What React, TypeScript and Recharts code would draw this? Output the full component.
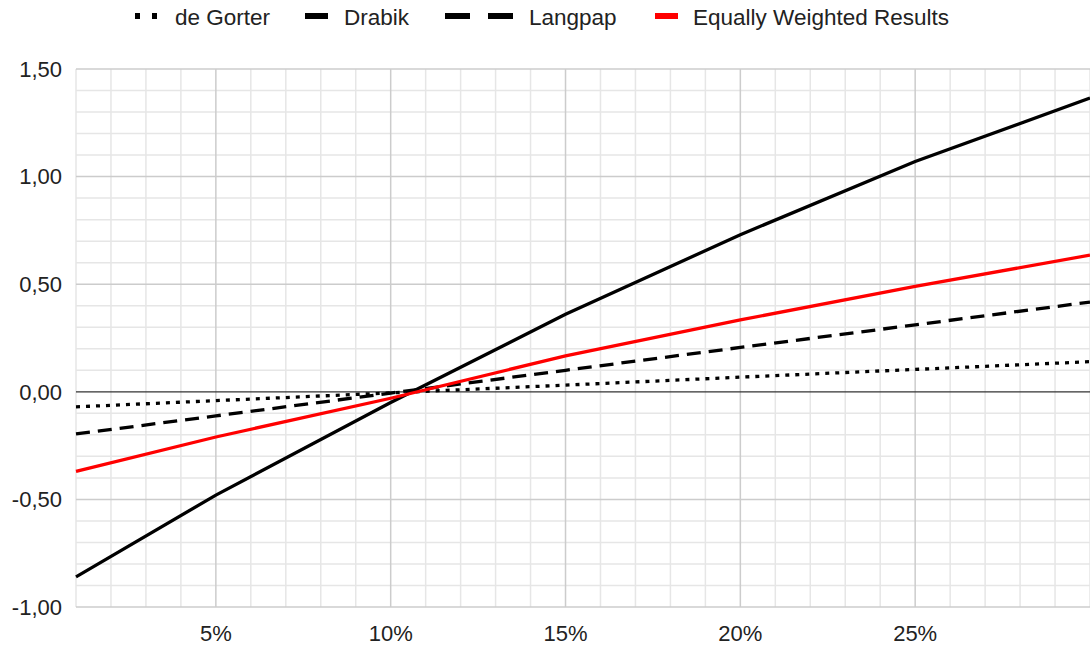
import { CartesianGrid, Line, LineChart, ReferenceLine, XAxis, YAxis } from "recharts";

const percents = [1, 5, 10, 15, 20, 25, 30];
const deGorter = [-0.07, -0.041, -0.005, 0.031, 0.068, 0.104, 0.14];
const drabik = [-0.86, -0.48, -0.05, 0.36, 0.73, 1.07, 1.365];
const langpap = [-0.196, -0.112, -0.006, 0.1, 0.206, 0.311, 0.417];
const equallyWeighted = [-0.37, -0.21, -0.03, 0.167, 0.334, 0.49, 0.635];

const xTicks = [5, 10, 15, 20, 25];
const xMinor = [1, 2, 3, 4, 6, 7, 8, 9, 11, 12, 13, 14, 16, 17, 18, 19, 21, 22, 23, 24, 26, 27, 28, 29, 30];
const yTicks = [-1, -0.5, 0, 0.5, 1, 1.5];
const yMajor = [-1, -0.5, 0.5, 1, 1.5];
const yMinor = [-0.9, -0.8, -0.7, -0.6, -0.4, -0.3, -0.2, -0.1, 0.1, 0.2, 0.3, 0.4, 0.6, 0.7, 0.8, 0.9, 1.1, 1.2, 1.3, 1.4];

const data = percents.map((p, i) => ({
  p,
  deGorter: deGorter[i],
  drabik: drabik[i],
  langpap: langpap[i],
  equal: equallyWeighted[i],
}));

const FONT = '"Liberation Sans", Arial, sans-serif';
const tick = { fontSize: 22, fill: "#222", fontFamily: FONT };

function LegendItem({ icon, label, left, textLeft }: { icon: React.ReactNode; label: string; left: number; textLeft: number }) {
  return (
    <>
      <div style={{ position: "absolute", left, top: 13, height: 6, lineHeight: 0 }}>{icon}</div>
      <span style={{ position: "absolute", left: textLeft, top: 5, fontSize: 22.5, lineHeight: "26px", color: "#222" }}>
        {label}
      </span>
    </>
  );
}

function ChartLegend() {
  return (
    <div style={{ position: "absolute", left: 0, top: 0, width: 1090, height: 34, fontFamily: FONT, whiteSpace: "nowrap" }}>
      <LegendItem
        left={135}
        textLeft={175}
        label="de Gorter"
        icon={
          <svg width={24} height={6}>
            <line x1={0} y1={3} x2={24} y2={3} stroke="#000" strokeWidth={6} strokeDasharray="5 12" />
          </svg>
        }
      />
      <LegendItem
        left={305}
        textLeft={344}
        label="Drabik"
        icon={
          <svg width={23} height={6}>
            <line x1={0} y1={3} x2={23} y2={3} stroke="#000" strokeWidth={6} />
          </svg>
        }
      />
      <LegendItem
        left={445}
        textLeft={529}
        label="Langpap"
        icon={
          <svg width={68} height={6}>
            <line x1={0} y1={3} x2={68} y2={3} stroke="#000" strokeWidth={6} strokeDasharray="25 18" />
          </svg>
        }
      />
      <LegendItem
        left={655}
        textLeft={693}
        label="Equally Weighted Results"
        icon={
          <svg width={23} height={6}>
            <line x1={0} y1={3} x2={23} y2={3} stroke="#ff0000" strokeWidth={6} />
          </svg>
        }
      />
    </div>
  );
}

export default function App() {
  return (
    <div style={{ position: "absolute", left: 0, top: 0, width: 1090, height: 646, background: "#fff" }}>
      <ChartLegend />
      <LineChart width={1090} height={646} data={data} margin={{ top: 69, right: 0, bottom: 0, left: 0 }}>
        <CartesianGrid horizontal={false} vertical={false} />
        <XAxis
          dataKey="p"
          type="number"
          domain={[1, 30]}
          ticks={xTicks}
          tickFormatter={(v) => `${v}%`}
          axisLine={false}
          tickLine={false}
          tickMargin={12}
          height={39}
          tick={tick}
        />
        <YAxis
          type="number"
          domain={[-1, 1.5]}
          ticks={yTicks}
          tickFormatter={(v) => Number(v).toFixed(2).replace(".", ",")}
          axisLine={false}
          tickLine={false}
          tickMargin={8}
          width={76}
          tick={tick}
        />
        {xMinor.map((v) => (
          <ReferenceLine key={`xm${v}`} x={v} stroke="#e6e6e6" strokeWidth={1.5} />
        ))}
        {yMinor.map((v) => (
          <ReferenceLine key={`ym${v}`} y={v} stroke="#e6e6e6" strokeWidth={1.5} />
        ))}
        {xTicks.map((v) => (
          <ReferenceLine key={`xM${v}`} x={v} stroke="#cccccc" strokeWidth={1.5} />
        ))}
        {yMajor.map((v) => (
          <ReferenceLine key={`yM${v}`} y={v} stroke="#cccccc" strokeWidth={1.5} />
        ))}
        <ReferenceLine y={0} stroke="#333" strokeWidth={1.2} />
        <Line dataKey="deGorter" stroke="#000" strokeWidth={3.3} strokeDasharray="4 6" dot={false} isAnimationActive={false} />
        <Line dataKey="drabik" stroke="#000" strokeWidth={3.3} dot={false} isAnimationActive={false} />
        <Line dataKey="langpap" stroke="#000" strokeWidth={3.3} strokeDasharray="14 8" dot={false} isAnimationActive={false} />
        <Line dataKey="equal" stroke="#ff0000" strokeWidth={3.3} dot={false} isAnimationActive={false} />
      </LineChart>
    </div>
  );
}
